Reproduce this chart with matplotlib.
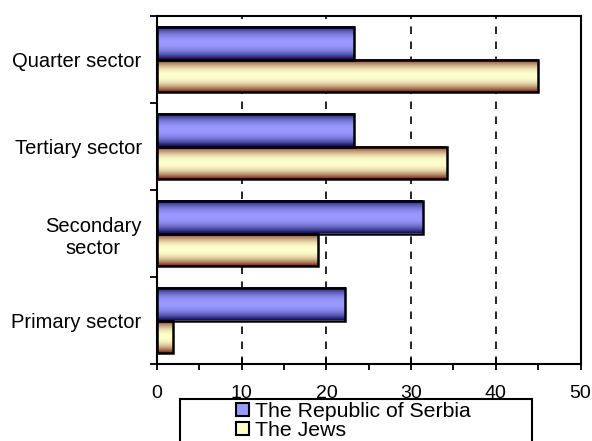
import numpy as np
import matplotlib
matplotlib.use("Agg")
import matplotlib.pyplot as plt
from matplotlib.colors import LinearSegmentedColormap
from matplotlib.patches import Patch, Rectangle

# data (bottom to top)
sectors = ["Primary sector", "Secondary\nsector", "Tertiary sector", "Quarter sector"]
serbia = [22.2, 31.4, 23.3, 23.3]
jews = [1.9, 19.0, 34.2, 45.0]
series_names = ["The Republic of Serbia", "The Jews"]

plt.rcParams["font.family"] = ["Liberation Sans", "DejaVu Sans"]

fig = plt.figure(figsize=(5.92, 4.41), dpi=100)
ax = fig.add_axes([157 / 592, 1 - 364 / 441, (580.5 - 157) / 592, (364 - 16) / 441])

blue_cmap = LinearSegmentedColormap.from_list("blue3d", ["#10105a", "#9999ff"])
cream_cmap = LinearSegmentedColormap.from_list("cream3d", ["#74200f", "#ffffcc"])

# vertical shading profile: dark at the edges, light in the middle
t = np.linspace(0, 1, 64)
shade = 1 - np.abs(2 * t - 1) ** 2.2
grad = shade.reshape(-1, 1)

h = 0.375
y = np.arange(len(sectors))


def shaded_bars(values, offset, cmap):
    for yi, v in zip(y, values):
        y0 = yi + offset
        ax.imshow(grad, extent=(0, v, y0, y0 + h), aspect="auto", cmap=cmap,
                  origin="lower", interpolation="bilinear", zorder=2, vmin=0, vmax=1)
    ax.barh(y + offset, values, height=h, align="edge", fill=False,
            edgecolor="black", linewidth=1.8, zorder=3)


shaded_bars(serbia, 0, blue_cmap)
shaded_bars(jews, -h, cream_cmap)

ax.set_xlim(0, 50)
ax.set_ylim(-0.5, len(sectors) - 0.5)

ax.set_xticks(np.arange(0, 51, 10))
ax.set_xticks(np.arange(5, 50, 10), minor=True)
ax.tick_params(axis="x", which="major", direction="inout", length=8, width=1.3,
               labelsize=14, pad=11)
ax.tick_params(axis="x", which="minor", direction="out", length=4, width=1.3)

ax.set_yticks(np.arange(-0.5, len(sectors), 1))
ax.set_yticklabels([])
ax.set_yticks(y, minor=True)
ax.set_yticklabels(sectors, minor=True, multialignment="center")
ax.tick_params(axis="y", which="major", direction="out", length=5, width=1.3)
ax.tick_params(axis="y", which="minor", length=0, labelsize=14.5, pad=11)

ax.set_axisbelow(True)
ax.xaxis.grid(True, which="major", color="black", linestyle=(0, (4.5, 4.5)),
              linewidth=1.2)

for s in ax.spines.values():
    s.set_linewidth(1.5)

# legend box running off the bottom of the figure
fig.patches.append(Rectangle((180 / 592, -0.05), 352 / 592, 0.05 + 1 - 399 / 441,
                             transform=fig.transFigure, facecolor="white",
                             edgecolor="black", linewidth=1.5, zorder=5))
handles = [Patch(facecolor="#9999ff", edgecolor="black", linewidth=1.5),
           Patch(facecolor="#ffffcc", edgecolor="black", linewidth=1.5)]
leg = fig.legend(handles, series_names, loc="upper left",
                 bbox_to_anchor=(236 / 592, 1 - 402 / 441), frameon=False,
                 fontsize=15.3, handlelength=0.6, handleheight=0.6,
                 handletextpad=0.3, labelspacing=0.0, borderpad=0,
                 borderaxespad=0)
leg.set_zorder(6)

fig.savefig("out.png", dpi=100)
